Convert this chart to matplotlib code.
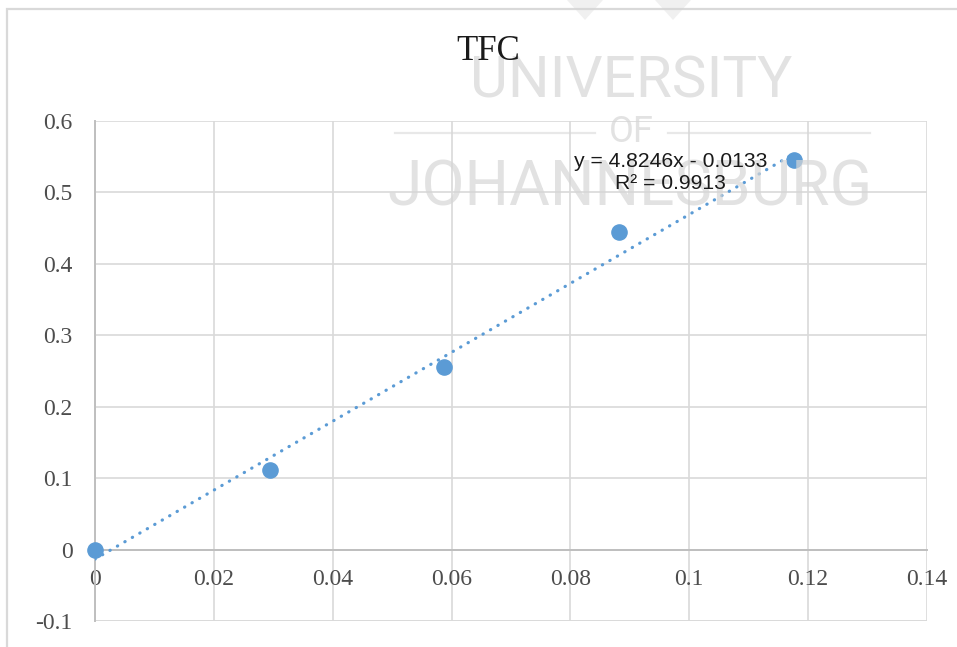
import matplotlib
matplotlib.use('Agg')
import matplotlib.pyplot as plt
from matplotlib.patches import Rectangle, Polygon
import numpy as np

# TFC calibration points
conc = [0, 0.0294, 0.0588, 0.0882, 0.1176]
absorb = [0, 0.111, 0.255, 0.444, 0.545]

# linear trendline as reported on the chart
slope = 4.8246
intercept = -0.0133
r_squared = 0.9913

x_ticks = [0, 0.02, 0.04, 0.06, 0.08, 0.1, 0.12, 0.14]
x_labels = ['0', '0.02', '0.04', '0.06', '0.08', '0.1', '0.12', '0.14']
y_ticks = [-0.1, 0, 0.1, 0.2, 0.3, 0.4, 0.5, 0.6]
y_labels = ['-0.1', '0', '0.1', '0.2', '0.3', '0.4', '0.5', '0.6']

blue = '#5B9BD5'
grid_c = '#d9d9d9'
axis_c = '#bfbfbf'
tick_c = '#4d4d4d'
wm_c = '#d6d6d6'

fig = plt.figure(figsize=(9.57, 6.47), dpi=100)
W, H = 957, 647

# chart frame
fig.patches.append(Rectangle((6.5 / W, -0.1), 1.2, 1 - 9 / H + 0.1,
                             transform=fig.transFigure, fill=False,
                             edgecolor=grid_c, linewidth=1.6, zorder=0))

ax = fig.add_axes([95 / W, 1 - 621 / H, (927 - 95) / W, (621 - 121) / H])
ax.set_xlim(0, 0.14)
ax.set_ylim(-0.1, 0.6)
ax.set_xticks(x_ticks)
ax.set_xticklabels(x_labels)
ax.set_yticks(y_ticks)
ax.set_yticklabels(y_labels)
ax.grid(True, color=grid_c, linewidth=1.2)
ax.set_axisbelow(True)

for s in ['top', 'right']:
    ax.spines[s].set_visible(False)
ax.spines['bottom'].set_position(('data', 0))
ax.spines['bottom'].set_color(axis_c)
ax.spines['bottom'].set_linewidth(1.4)
ax.spines['left'].set_color(axis_c)
ax.spines['left'].set_linewidth(1.4)
ax.tick_params(length=0)
ax.tick_params(axis='x', pad=14, labelsize=17, labelcolor=tick_c)
ax.tick_params(axis='y', pad=16, labelsize=17, labelcolor=tick_c)
for lab in ax.get_xticklabels() + ax.get_yticklabels():
    lab.set_fontfamily('Liberation Serif')

# bottom edge of the plot area
ax.axhline(-0.1, color=grid_c, linewidth=1.2, zorder=0.5)

# trendline
xt = np.array([0, max(conc)])
ax.plot(xt, slope * xt + intercept, color=blue, linewidth=2.3,
        linestyle=(0, (0.1, 2.6)), dash_capstyle='round', zorder=3)

ax.scatter(conc, absorb, s=120, color=blue, zorder=4, clip_on=False)

# watermark
fig.text(631 / W, 1 - 82 / H, 'UNIVERSITY', ha='center', va='center',
         fontsize=42, color=wm_c, alpha=0.7, family='Roboto', zorder=5)
fig.text(631 / W, 1 - 132 / H, 'OF', ha='center', va='center',
         fontsize=26, color=wm_c, alpha=0.7, family='Roboto', zorder=5)
fig.text(630 / W, 1 - 188 / H, 'JOHANNESBURG', ha='center', va='center',
         fontsize=45, color=wm_c, alpha=0.7, family='Roboto', zorder=5)
for x0, x1 in [(395, 595), (668, 870)]:
    fig.lines.append(plt.Line2D([x0 / W, x1 / W], [1 - 133 / H, 1 - 133 / H],
                                transform=fig.transFigure, color=wm_c,
                                alpha=0.55, linewidth=1.6, zorder=5))
for cx in [585, 673]:
    fig.patches.append(Polygon([((cx - 18) / W, 1.0), ((cx + 18) / W, 1.0),
                                (cx / W, 1 - 20 / H)],
                               transform=fig.transFigure, closed=True,
                               facecolor=wm_c, alpha=0.35, edgecolor='none',
                               zorder=5))

# trendline equation, placed in data coordinates above the watermark
fig.text(0.0969, 0.528,
         f'y = {slope}x - {abs(intercept)}\nR² = {r_squared}',
         transform=ax.transData, ha='center', va='center', fontsize=15.2,
         color='#1a1a1a', family='Liberation Sans', linespacing=1.2, zorder=6)

fig.text(488 / W, 1 - 52 / H, 'TFC', ha='center', va='center',
         fontsize=25, color='#1a1a1a', family='Liberation Serif', zorder=6)

fig.savefig('out.png', dpi=100)
